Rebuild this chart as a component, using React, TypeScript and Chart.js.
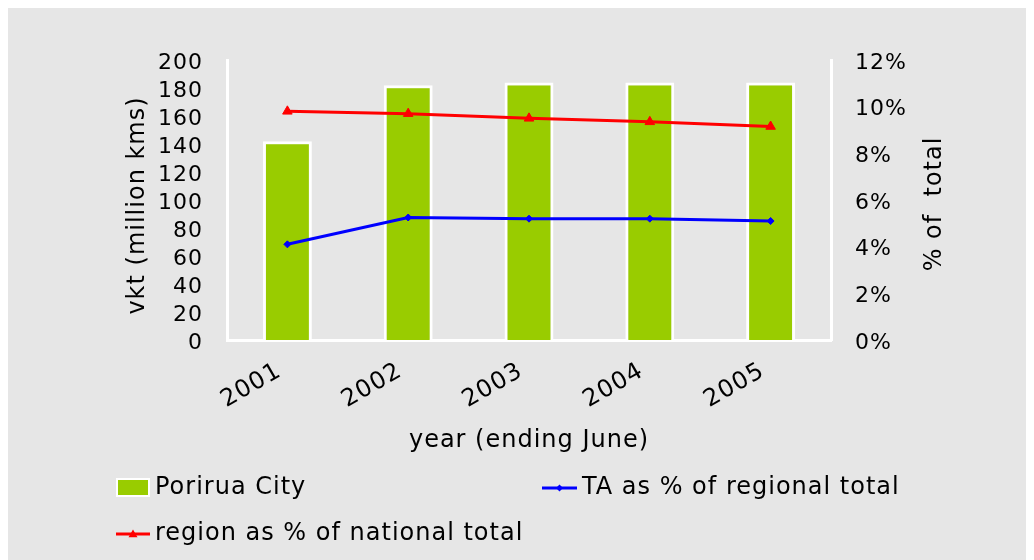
import React, { useEffect, useRef } from 'react';
import { Chart, registerables } from 'chart.js';

Chart.register(...registerables);

const years = ['2001', '2002', '2003', '2004', '2005'];
const poriruaVkt = [142, 182, 184, 184, 184];
const taShareOfRegion = [4.1, 5.25, 5.2, 5.2, 5.1];
const regionShareOfNation = [9.8, 9.7, 9.5, 9.35, 9.15];
const leftAxisMax = 200;
const leftAxisStep = 20;
const rightAxisMax = 12;
const rightAxisStep = 2;

const labelBar = 'Porirua City';
const labelTA = 'TA as % of regional total';
const labelRegion = 'region as % of national total';
const xTitle = 'year (ending June)';
const yTitle = 'vkt (million kms)';
const y2Title = '% of  total';

const GREEN = '#99cc00';
const RED = '#ff0000';
const BLUE = '#0000ff';
const FONT = "'DejaVu Sans', Verdana, sans-serif";

const spacingPlugin = {
  id: 'spacing',
  beforeLayout(chart: any) {
    chart.ctx.letterSpacing = '1px';
  },
  beforeDraw(chart: any) {
    chart.ctx.letterSpacing = '1px';
  },
};

function drawMarker(ctx: CanvasRenderingContext2D, style: string, x: number, y: number, r: number, color: string) {
  ctx.fillStyle = color;
  ctx.beginPath();
  if (style === 'triangle') {
    ctx.moveTo(x, y - r);
    ctx.lineTo(x + r, y + r * 0.7);
    ctx.lineTo(x - r, y + r * 0.7);
  } else {
    ctx.moveTo(x, y - r);
    ctx.lineTo(x + r, y);
    ctx.lineTo(x, y + r);
    ctx.lineTo(x - r, y);
  }
  ctx.closePath();
  ctx.fill();
}

const overlayPlugin = {
  id: 'overlay',
  afterDraw(chart: any) {
    const ctx: CanvasRenderingContext2D = chart.ctx;
    ctx.save();
    (ctx as any).letterSpacing = '1px';
    ctx.fillStyle = '#000';
    ctx.font = `24px ${FONT}`;
    ctx.textAlign = 'center';
    ctx.textBaseline = 'middle';
    // left axis title (reads bottom to top)
    ctx.save();
    ctx.translate(132, 198.5);
    ctx.rotate(-Math.PI / 2);
    ctx.fillText(yTitle, 0, 0);
    ctx.restore();
    // right axis title (reads bottom to top)
    ctx.save();
    ctx.translate(929, 197);
    ctx.rotate(-Math.PI / 2);
    ctx.fillText(y2Title, 0, 0);
    ctx.restore();

    // legend
    ctx.textAlign = 'left';
    ctx.textBaseline = 'middle';
    ctx.fillStyle = '#ffffff';
    ctx.fillRect(110, 471, 34, 19);
    ctx.fillStyle = GREEN;
    ctx.fillRect(112, 473, 30, 15);
    ctx.fillStyle = '#000';
    ctx.fillText(labelBar, 149, 481);

    ctx.strokeStyle = BLUE;
    ctx.lineWidth = 3;
    ctx.beginPath();
    ctx.moveTo(536, 481);
    ctx.lineTo(571, 481);
    ctx.stroke();
    drawMarker(ctx, 'diamond', 553.5, 481, 3.5, BLUE);
    ctx.fillStyle = '#000';
    ctx.fillText(labelTA, 576, 481);

    ctx.strokeStyle = RED;
    ctx.beginPath();
    ctx.moveTo(110, 527);
    ctx.lineTo(144, 527);
    ctx.stroke();
    drawMarker(ctx, 'triangle', 127, 527, 4.5, RED);
    ctx.fillStyle = '#000';
    ctx.fillText(labelRegion, 149, 527);
    ctx.restore();
  },
};

export default function App() {
  const canvasRef = useRef<HTMLCanvasElement | null>(null);

  useEffect(() => {
    if (!canvasRef.current) return;
    const chart = new Chart(canvasRef.current, {
      data: {
        labels: years,
        datasets: [
          {
            type: 'line',
            label: labelRegion,
            data: regionShareOfNation,
            yAxisID: 'y2',
            borderColor: RED,
            backgroundColor: RED,
            borderWidth: 3,
            pointStyle: 'triangle',
            pointRadius: 5.5,
            pointBorderWidth: 1,
            pointBackgroundColor: RED,
            pointBorderColor: RED,
            tension: 0,
            order: 0,
          },
          {
            type: 'line',
            label: labelTA,
            data: taShareOfRegion,
            yAxisID: 'y2',
            borderColor: BLUE,
            backgroundColor: BLUE,
            borderWidth: 3,
            pointStyle: 'rectRot',
            pointRadius: 3.5,
            pointBorderWidth: 1,
            pointBackgroundColor: BLUE,
            pointBorderColor: BLUE,
            tension: 0,
            order: 1,
          },
          {
            type: 'bar',
            label: labelBar,
            data: poriruaVkt,
            yAxisID: 'y',
            backgroundColor: GREEN,
            borderColor: '#ffffff',
            borderWidth: 3,
            categoryPercentage: 1,
            barPercentage: 0.405,
            order: 2,
          },
        ],
      } as any,
      options: {
        animation: false,
        responsive: false,
        maintainAspectRatio: false,
        devicePixelRatio: 1,
        font: { family: FONT },
        layout: { padding: { left: 118, right: 85, top: 53, bottom: 105 } },
        plugins: {
          legend: { display: false },
          tooltip: { enabled: false },
          title: { display: false },
        },
        scales: {
          x: {
            offset: true,
            grid: { display: false, drawTicks: false },
            border: { display: true, color: '#ffffff', width: 3 },
            ticks: {
              minRotation: 30,
              maxRotation: 30,
              padding: 17,
              labelOffset: -8,
              color: '#000',
              font: { family: FONT, size: 24 },
            },
            title: {
              display: true,
              text: xTitle,
              color: '#000',
              padding: 0,
              font: { family: FONT, size: 24 },
            },
            afterFit: (s: any) => {
              s.height = 115;
            },
          },
          y: {
            position: 'left',
            min: 0,
            max: leftAxisMax,
            grid: { display: false, drawTicks: false },
            border: { display: true, color: '#ffffff', width: 3 },
            ticks: {
              stepSize: leftAxisStep,
              autoSkip: false,
              padding: 24,
              labelOffset: 3,
              color: '#000',
              font: { family: FONT, size: 22, lineHeight: 1 },
            },
            title: { display: false },
            afterFit: (s: any) => {
              s.width = 103;
            },
          },
          y2: {
            position: 'right',
            min: 0,
            max: rightAxisMax,
            grid: { display: false, drawTicks: false },
            border: { display: true, color: '#ffffff', width: 3 },
            ticks: {
              stepSize: rightAxisStep,
              autoSkip: false,
              padding: 24,
              labelOffset: 3,
              color: '#000',
              font: { family: FONT, size: 22, lineHeight: 1 },
              callback: (v: any) => `${v}%`,
            },
            title: { display: false },
            afterFit: (s: any) => {
              s.width = 118;
            },
          },
        },
      } as any,
      plugins: [spacingPlugin, overlayPlugin],
    });
    return () => chart.destroy();
  }, []);

  return (
    <div style={{ width: 1028, height: 553, marginLeft: -2, marginTop: -1, background: '#e6e6e6' }}>
      <canvas
        ref={canvasRef}
        width={1028}
        height={553}
        style={{ display: 'block', width: 1028, height: 553 }}
      />
    </div>
  );
}
